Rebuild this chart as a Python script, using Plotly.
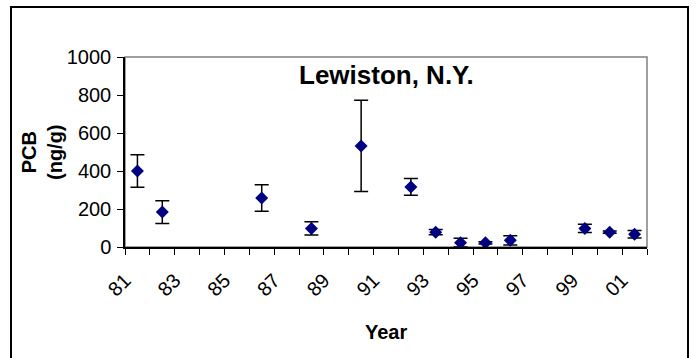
import plotly.graph_objects as go

# ---- data ----
sample_years = [1981, 1982, 1986, 1988, 1990, 1992, 1993, 1994, 1995, 1996, 1999, 2000, 2001]
pcb_ng_g = [400, 184, 258, 98, 532, 316, 78, 23, 22, 35, 98, 78, 67]
pcb_err = [86, 60, 70, 35, 240, 44, 14, 23, 6, 24, 22, 6, 20]
tick_years = list(range(1981, 2003))
tick_labels = ["81", "", "83", "", "85", "", "87", "", "89", "", "91", "", "93", "",
               "95", "", "97", "", "99", "", "01", ""]
y_ticks = [0, 200, 400, 600, 800, 1000]

FONT = "Liberation Sans, Arial, sans-serif"

# plotted at mid-year
x_vals = [y + 0.5 for y in sample_years]

fig = go.Figure()
fig.add_trace(go.Scatter(
    x=x_vals, y=pcb_ng_g, mode="markers",
    marker=dict(symbol="diamond", size=10, color="#000080",
                line=dict(width=0)),
    error_y=dict(type="data", array=pcb_err, visible=True,
                 color="black", thickness=1.5, width=7),
    showlegend=False, cliponaxis=False,
))

L, R, T, B = 125, 49, 57, 111
W, H = 696, 358
pw, ph = W - L - R, H - T - B

def px_x(p):
    return (p - L) / pw

def px_y(p):
    return (H - B - p) / ph

fig.update_layout(
    width=W, height=H,
    margin=dict(l=L, r=R, t=T, b=B, pad=0),
    paper_bgcolor="white", plot_bgcolor="white",
    font=dict(family=FONT, color="black", size=20),
    xaxis=dict(range=[1981, 2002], tickmode="array", tickvals=tick_years,
               ticktext=tick_labels, tickangle=-45, ticks="outside", ticklen=6,
               tickwidth=1, tickcolor="black", showline=True, linecolor="black",
               linewidth=1.5, showgrid=False, zeroline=False,
               tickfont=dict(size=20), ticklabelstandoff=6),
    yaxis=dict(range=[0, 1000], tickmode="array", tickvals=y_ticks,
               ticks="outside", ticklen=6, tickwidth=1, tickcolor="black",
               showline=True, linecolor="black", linewidth=1.5,
               showgrid=False, zeroline=False, tickfont=dict(size=20),
               ticklabelstandoff=2),
    shapes=[
        # plot area border (gray top/right)
        dict(type="rect", xref="paper", yref="paper", x0=0, x1=1, y0=0, y1=1,
             line=dict(color="#808080", width=1.5), layer="below"),
        # chart area border
        dict(type="rect", xref="paper", yref="paper",
             x0=px_x(11), x1=px_x(688), y0=px_y(368), y1=px_y(7),
             line=dict(color="black", width=2), layer="below"),
    ],
    annotations=[
        dict(text="<b>Lewiston, N.Y.</b>", xref="paper", yref="paper",
             x=px_x(386), y=px_y(75), showarrow=False,
             font=dict(size=26, family=FONT), xanchor="center", yanchor="middle"),
        dict(text="<b>Year</b>", xref="paper", yref="paper",
             x=px_x(386), y=px_y(332), showarrow=False,
             font=dict(size=20, family=FONT), xanchor="center", yanchor="middle"),
        dict(text="<b>PCB<br>(ng/g)</b>", xref="paper", yref="paper",
             x=px_x(42), y=px_y(152), showarrow=False, textangle=-90,
             font=dict(size=20, family=FONT), xanchor="center", yanchor="middle"),
    ],
)

fig.write_html("out.html")
